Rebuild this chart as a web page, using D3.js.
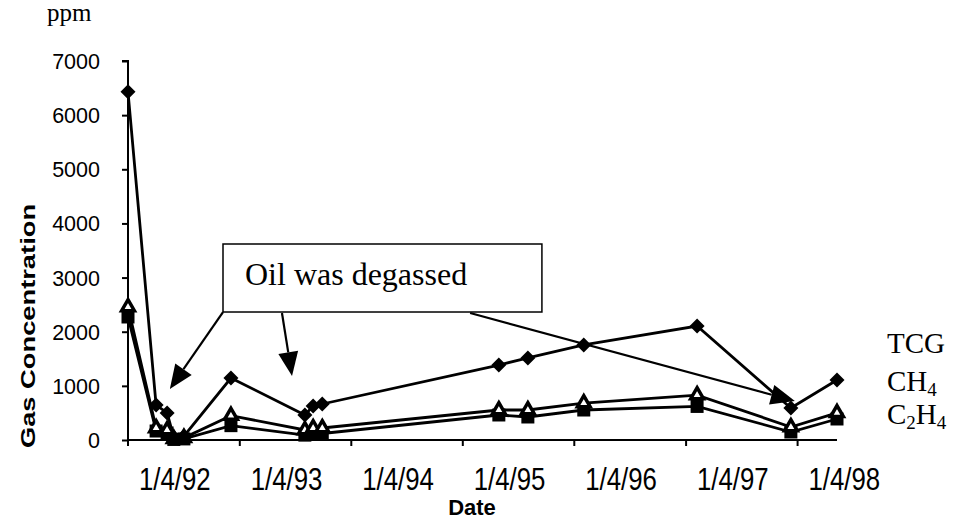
<!DOCTYPE html>
<html><head><meta charset="utf-8">
<script src="https://cdn.jsdelivr.net/npm/d3@7"></script>
<style>html,body{margin:0;padding:0;background:#fff}svg{display:block}</style>
</head><body>
<svg id="c" width="965" height="521"></svg>
<script>
// ---- data ----
const dates = ["1991-08-04","1991-11-04","1991-12-10","1992-01-01","1992-02-03","1992-07-06","1993-03-05","1993-04-01","1993-05-01","1994-11-30","1995-03-05","1995-09-04","1996-09-09","1997-07-13","1997-12-11"];
const tcg  = [6430, 646, 500, 50, 70, 1145, 462, 628, 665, 1385, 1515, 1755, 2105, 590, 1108];
const ch4  = [2457, 222, 185, 20, 40, 450, 185, 222, 222, 554, 554, 683, 830, 240, 500];
const c2h4 = [2272, 166, 130, 10, 20, 265, 90, 110, 120, 462, 425, 554, 620, 148, 388];
const yTicks = [0, 1000, 2000, 3000, 4000, 5000, 6000, 7000];
const xLabelDates = ["1992-01-04","1993-01-04","1994-01-04","1995-01-04","1996-01-04","1997-01-04","1998-01-04"];
const xLabels = ["1/4/92","1/4/93","1/4/94","1/4/95","1/4/96","1/4/97","1/4/98"];
const xTickDates = ["1991-08-04","1992-08-04","1993-08-04","1994-08-04","1995-08-04","1996-08-04","1997-08-04"];
const annotationText = "Oil was degassed";
const boxCorners = {d0: "1992-06-10", d1: "1995-04-20", v0: 3620, v1: 2364};
const arrowFrom = [["1992-06-10", 2364], ["1992-12-20", 2345], ["1994-08-28", 2345]];
const arrowTo   = [["1991-12-19", 942], ["1993-01-22", 1182], ["1997-07-26", 720]];

const parse = d3.timeParse("%Y-%m-%d");
const svg = d3.select("#c");
const x = d3.scaleTime().domain([parse("1991-08-04"), parse("1997-12-11")]).range([128, 837]);
const y = d3.scaleLinear().domain([0, 7000]).range([440, 61]);

// y axis
const yAxis = d3.axisLeft(y).tickValues(yTicks).tickSize(6).tickFormat(d3.format("d"));
const gy = svg.append("g").attr("transform", "translate(128,0)").call(yAxis);
gy.select(".domain").attr("stroke", "#000").attr("stroke-width", 2).attr("d", `M-6,${y(7000)}H0V${y(0)}`);
gy.selectAll(".tick line").attr("stroke", "#000").attr("stroke-width", 2);
gy.selectAll(".tick text").attr("x", -28).attr("dy", "0.35em")
  .style("font-family", "'Liberation Sans', Arial, sans-serif").style("font-size", "21.5px").attr("fill", "#000");

// x axis
const gx = svg.append("g").attr("transform", `translate(0,${y(0)})`);
gx.append("line").attr("x1", x.range()[0]).attr("x2", x.range()[1]).attr("stroke", "#000").attr("stroke-width", 2);
gx.selectAll("line.t").data(xTickDates).enter().append("line").attr("class", "t")
  .attr("x1", d => x(parse(d))).attr("x2", d => x(parse(d))).attr("y1", 0).attr("y2", 6)
  .attr("stroke", "#000").attr("stroke-width", 2);
svg.append("g").selectAll("text").data(xLabelDates).enter().append("text")
  .attr("transform", d => `translate(${x(parse(d))},490) scale(0.86,1.05)`)
  .attr("text-anchor", "middle")
  .style("font-family", "'Liberation Sans', Arial, sans-serif").style("font-size", "30px")
  .text((d, i) => xLabels[i]);

// axis titles
svg.append("text").attr("x", 472).attr("y", 515).attr("text-anchor", "middle")
  .style("font-family", "'Liberation Sans', Arial, sans-serif").style("font-weight", "bold").style("font-size", "22px")
  .text("Date");
svg.append("text").attr("transform", "translate(35,326) rotate(-90) scale(1.3,1)").attr("text-anchor", "middle")
  .style("font-family", "'Liberation Sans', Arial, sans-serif").style("font-weight", "bold").style("font-size", "21px")
  .text("Gas Concentration");
svg.append("text").attr("x", 47).attr("y", 21)
  .style("font-family", "'Liberation Serif', 'Times New Roman', serif").style("font-size", "25px")
  .text("ppm");

// series
const pts = arr => arr.map((v, i) => [x(parse(dates[i])), y(v)]);
const line = d3.line();
const series = [
  {vals: c2h4, type: "square"},
  {vals: ch4, type: "triangle"},
  {vals: tcg, type: "diamond"}
];
series.forEach(s => {
  svg.append("path").attr("d", line(pts(s.vals))).attr("fill", "none").attr("stroke", "#000").attr("stroke-width", 2.8);
});
series.forEach(s => {
  const g = svg.append("g");
  pts(s.vals).forEach(p => {
    if (s.type === "square") {
      g.append("rect").attr("x", p[0] - 6.5).attr("y", p[1] - 6.5).attr("width", 13).attr("height", 13).attr("fill", "#000");
    } else if (s.type === "diamond") {
      g.append("path").attr("d", `M${p[0]},${p[1]-7.5}L${p[0]+7.5},${p[1]}L${p[0]},${p[1]+7.5}L${p[0]-7.5},${p[1]}Z`).attr("fill", "#000");
    } else {
      g.append("path").attr("d", d3.symbol(d3.symbolTriangle, 70)()).attr("transform", `translate(${p[0]},${p[1]})`)
        .attr("fill", "#fff").attr("stroke", "#000").attr("stroke-width", 3.5);
    }
  });
});

// annotation box
const bx0 = x(parse(boxCorners.d0)), bx1 = x(parse(boxCorners.d1)), by0 = y(boxCorners.v0), by1 = y(boxCorners.v1);
svg.append("rect").attr("x", bx0).attr("y", by0).attr("width", bx1 - bx0).attr("height", by1 - by0)
  .attr("fill", "#fff").attr("stroke", "#000").attr("stroke-width", 1.5);
svg.append("text").attr("x", bx0 + 22).attr("y", by0 + 41)
  .style("font-family", "'Liberation Serif', 'Times New Roman', serif").style("font-size", "32px")
  .text(annotationText);

// arrows
arrowFrom.forEach((f, i) => {
  const x1 = x(parse(f[0])), y1 = y(f[1]);
  const x2 = x(parse(arrowTo[i][0])), y2 = y(arrowTo[i][1]);
  const dx = x2 - x1, dy = y2 - y1, L = Math.hypot(dx, dy), ux = dx / L, uy = dy / L;
  const hl = 24, hw = 10;
  const bxp = x2 - ux * hl, byp = y2 - uy * hl;
  svg.append("line").attr("x1", x1).attr("y1", y1).attr("x2", bxp).attr("y2", byp).attr("stroke", "#000").attr("stroke-width", 2.2);
  svg.append("path").attr("d", `M${x2},${y2}L${bxp - uy * hw},${byp + ux * hw}L${bxp + uy * hw},${byp - ux * hw}Z`).attr("fill", "#000");
});

// legend labels
const serif = "'Liberation Serif', 'Times New Roman', serif";
const leg = svg.append("g").style("font-family", serif).style("font-size", "29px");
leg.append("text").attr("x", 887).attr("y", 353).text("TCG");
const t2 = leg.append("text").attr("x", 887).attr("y", 391);
t2.append("tspan").text("CH");
t2.append("tspan").attr("dy", 5).style("font-size", "19px").text("4");
const t3 = leg.append("text").attr("x", 887).attr("y", 424);
t3.append("tspan").text("C");
t3.append("tspan").attr("dy", 5).style("font-size", "19px").text("2");
t3.append("tspan").attr("dy", -5).text("H");
t3.append("tspan").attr("dy", 5).style("font-size", "19px").text("4");
</script>
</body></html>
